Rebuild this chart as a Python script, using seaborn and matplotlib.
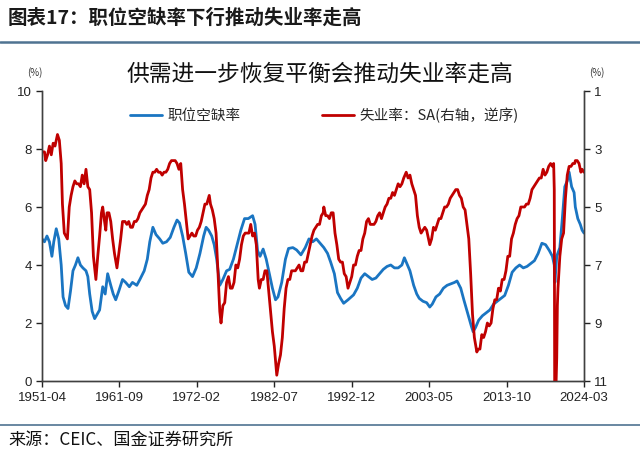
import matplotlib
matplotlib.use('Agg')
import matplotlib.pyplot as plt
import pandas as pd
import seaborn as sns
from matplotlib.lines import Line2D

# ---------------- data ----------------
vac_dates = [
    '1951-04', '1951-08', '1951-12', '1952-04', '1952-08', '1952-11', '1953-03', '1953-07', '1953-11',
    '1954-02', '1954-06', '1954-10', '1955-02', '1955-06', '1955-10', '1956-02', '1956-06', '1956-10',
    '1957-03', '1957-06', '1957-09', '1958-01', '1958-05', '1958-09', '1959-01', '1959-06', '1959-10',
    '1960-02', '1960-07', '1960-11', '1961-03', '1961-08', '1962-02', '1962-07', '1963-01', '1963-06',
    '1964-01', '1964-06', '1965-01', '1965-06', '1965-10', '1966-03', '1966-08', '1967-02', '1967-07',
    '1968-01', '1968-07', '1969-01', '1969-06', '1969-10', '1970-03', '1970-08', '1971-01', '1971-07',
    '1972-01', '1972-07', '1973-01', '1973-05', '1973-09', '1974-02', '1974-06', '1974-10', '1975-03',
    '1975-08', '1976-02', '1976-07', '1977-01', '1977-07', '1978-01', '1978-07', '1979-01', '1979-08',
    '1979-12', '1980-04', '1980-08', '1981-01', '1981-06', '1981-11', '1982-04', '1982-09', '1983-01',
    '1983-07', '1984-01', '1984-06', '1985-01', '1985-07', '1986-02', '1986-09', '1987-03', '1987-09',
    '1988-03', '1988-09', '1989-03', '1989-09', '1990-02', '1990-08', '1991-01', '1991-06', '1991-11',
    '1992-06', '1993-03', '1993-09', '1994-03', '1994-09', '1995-03', '1995-09', '1996-03', '1996-09',
    '1997-03', '1997-09', '1998-03', '1998-09', '1999-03', '1999-09', '2000-01', '2000-06', '2000-10',
    '2001-04', '2001-09', '2002-01', '2002-07', '2003-01', '2003-06', '2003-10', '2004-04', '2004-10',
    '2005-04', '2005-10', '2006-04', '2006-10', '2007-02', '2007-08', '2008-01', '2008-07', '2009-01',
    '2009-04', '2009-08', '2010-01', '2010-07', '2011-01', '2011-07', '2012-01', '2012-07', '2013-01',
    '2013-07', '2014-01', '2014-07', '2015-01', '2015-07', '2016-01', '2016-07', '2017-01', '2017-07',
    '2018-01', '2018-07', '2019-01', '2019-07', '2019-12', '2020-03', '2020-04', '2020-07', '2020-12',
    '2021-04', '2021-08', '2021-12', '2022-03', '2022-07', '2022-11', '2023-01', '2023-05', '2023-09',
    '2023-12', '2024-03']
vac_values = [
    4.9, 4.8, 5.0, 4.8, 4.3, 4.8, 5.25, 4.9, 4.0,
    2.9, 2.6, 2.5, 3.1, 3.8, 4.0, 4.25, 4.0, 3.9,
    3.8, 3.6, 3.0, 2.4, 2.15, 2.3, 2.45, 3.25, 3.0,
    3.7, 3.3, 3.0, 2.8, 3.1, 3.5, 3.4, 3.25, 3.4,
    3.3, 3.5, 3.8, 4.2, 4.8, 5.3, 5.05, 4.9, 4.75,
    4.8, 4.95, 5.3, 5.55, 5.45, 5.0, 4.4, 3.75, 3.6,
    3.9, 4.4, 5.0, 5.3, 5.2, 5.0, 4.7, 4.2, 3.3,
    3.5, 3.8, 3.85, 4.2, 4.7, 5.2, 5.6, 5.6, 5.7,
    5.4, 4.5, 4.3, 4.55, 4.2, 3.7, 3.2, 2.8, 2.9,
    3.4, 4.2, 4.57, 4.6, 4.52, 4.35, 4.6, 4.9, 4.8,
    4.9, 4.75, 4.6, 4.4, 4.1, 3.7, 3.05, 2.85, 2.68,
    2.8, 2.97, 3.2, 3.55, 3.7, 3.6, 3.5, 3.55, 3.7,
    3.85, 3.95, 4.0, 3.9, 3.9, 4.0, 4.25, 4.0, 3.8,
    3.3, 3.0, 2.85, 2.75, 2.7, 2.55, 2.65, 2.9, 3.0,
    3.2, 3.3, 3.35, 3.4, 3.45, 3.2, 2.8, 2.35, 1.9,
    1.7, 1.85, 2.1, 2.25, 2.35, 2.45, 2.65, 2.75, 2.85,
    2.95, 3.3, 3.75, 3.9, 4.0, 3.9, 3.95, 4.05, 4.15,
    4.4, 4.75, 4.7, 4.5, 4.3, 4.0, 3.4, 4.3, 4.6,
    5.6, 6.7, 6.9, 7.2, 6.7, 6.5, 6.0, 5.6, 5.4,
    5.2, 5.1]

unemp_dates = [
    '1951-04', '1951-08', '1951-10', '1952-01', '1952-04', '1952-07', '1952-10', '1953-01', '1953-05',
    '1953-08', '1953-11', '1954-01', '1954-04', '1954-09', '1954-12', '1955-03', '1955-06', '1955-09',
    '1955-12', '1956-03', '1956-06', '1956-09', '1956-12', '1957-03', '1957-06', '1957-09', '1957-12',
    '1958-03', '1958-07', '1958-10', '1959-01', '1959-04', '1959-06', '1959-09', '1959-11', '1960-01',
    '1960-04', '1960-07', '1960-10', '1961-01', '1961-05', '1961-08', '1961-11', '1962-02', '1962-06',
    '1962-09', '1962-12', '1963-03', '1963-06', '1963-09', '1963-12', '1964-03', '1964-06', '1964-09',
    '1964-12', '1965-03', '1965-06', '1965-09', '1965-12', '1966-03', '1966-06', '1966-09', '1966-12',
    '1967-03', '1967-06', '1967-09', '1967-12', '1968-03', '1968-06', '1968-09', '1968-12', '1969-03',
    '1969-06', '1969-09', '1969-12', '1970-03', '1970-06', '1970-09', '1970-12', '1971-03', '1971-06',
    '1971-09', '1971-12', '1972-03', '1972-06', '1972-09', '1972-12', '1973-03', '1973-06', '1973-10',
    '1973-12', '1974-03', '1974-06', '1974-09', '1974-12', '1975-03', '1975-05', '1975-08', '1975-11',
    '1976-02', '1976-05', '1976-08', '1976-11', '1977-02', '1977-05', '1977-08', '1977-11', '1978-02',
    '1978-05', '1978-08', '1978-11', '1979-02', '1979-05', '1979-08', '1979-11', '1980-02', '1980-05',
    '1980-07', '1980-10', '1981-01', '1981-04', '1981-07', '1981-10', '1982-01', '1982-04', '1982-07',
    '1982-11', '1983-02', '1983-05', '1983-08', '1983-11', '1984-02', '1984-05', '1984-08', '1984-11',
    '1985-02', '1985-05', '1985-08', '1985-11', '1986-02', '1986-05', '1986-08', '1986-11', '1987-02',
    '1987-05', '1987-08', '1987-11', '1988-02', '1988-05', '1988-08', '1988-11', '1989-02', '1989-03',
    '1989-06', '1989-09', '1989-12', '1990-03', '1990-06', '1990-09', '1990-12', '1991-03', '1991-06',
    '1991-09', '1991-12', '1992-03', '1992-06', '1992-09', '1992-12', '1993-03', '1993-06', '1993-09',
    '1993-12', '1994-03', '1994-06', '1994-09', '1994-12', '1995-03', '1995-06', '1995-09', '1995-12',
    '1996-03', '1996-06', '1996-09', '1996-12', '1997-03', '1997-06', '1997-09', '1997-12', '1998-03',
    '1998-06', '1998-09', '1998-12', '1999-03', '1999-06', '1999-09', '1999-12', '2000-04', '2000-07',
    '2000-10', '2001-01', '2001-04', '2001-07', '2001-10', '2002-01', '2002-04', '2002-07', '2002-10',
    '2003-01', '2003-06', '2003-09', '2003-12', '2004-03', '2004-06', '2004-09', '2004-12', '2005-03',
    '2005-06', '2005-09', '2005-12', '2006-03', '2006-06', '2006-09', '2006-12', '2007-03', '2007-06',
    '2007-09', '2007-12', '2008-03', '2008-06', '2008-09', '2008-12', '2009-03', '2009-06', '2009-10',
    '2009-12', '2010-03', '2010-06', '2010-09', '2010-12', '2011-03', '2011-06', '2011-09', '2011-12',
    '2012-03', '2012-06', '2012-09', '2012-12', '2013-03', '2013-06', '2013-09', '2013-12', '2014-03',
    '2014-06', '2014-09', '2014-12', '2015-03', '2015-06', '2015-09', '2015-12', '2016-03', '2016-06',
    '2016-09', '2016-12', '2017-03', '2017-06', '2017-09', '2017-12', '2018-03', '2018-06', '2018-09',
    '2018-12', '2019-03', '2019-06', '2019-09', '2019-12', '2020-02', '2020-03', '2020-04', '2020-05',
    '2020-06', '2020-07', '2020-08', '2020-09', '2020-12', '2021-03', '2021-06', '2021-09', '2021-12',
    '2022-03', '2022-06', '2022-09', '2022-12', '2023-01', '2023-04', '2023-07', '2023-10', '2023-12',
    '2024-03']
unemp_values = [
    3.1, 3.1, 3.4, 3.2, 2.9, 3.2, 2.8, 2.9, 2.5,
    2.7, 3.5, 4.9, 5.9, 6.1, 5.0, 4.6, 4.3, 4.1,
    4.2, 4.2, 4.3, 3.9, 4.2, 3.7, 4.3, 4.4, 5.2,
    6.7, 7.5, 6.7, 6.0, 5.2, 5.0, 5.5, 5.8, 5.2,
    5.2, 5.5, 6.1, 6.6, 7.1, 6.6, 6.1, 5.5, 5.5,
    5.6, 5.5, 5.7, 5.7, 5.5, 5.5, 5.4, 5.2, 5.1,
    5.0, 4.9, 4.6, 4.4, 4.0, 3.8, 3.8, 3.7, 3.8,
    3.8, 3.9, 3.8, 3.8, 3.7, 3.5, 3.4, 3.4, 3.4,
    3.5, 3.7, 3.5, 4.4, 4.9, 5.5, 6.1, 6.0, 5.9,
    6.0, 6.0, 5.8, 5.7, 5.5, 5.2, 4.9, 4.9, 4.6,
    4.9, 5.1, 5.4, 5.9, 7.2, 8.6, 9.0, 8.4, 8.3,
    7.6, 7.4, 7.8, 7.8, 7.6, 7.0, 7.1, 6.8, 6.3,
    6.0, 5.9, 5.9, 5.9, 5.6, 6.0, 5.9, 6.3, 7.5,
    7.8, 7.5, 7.5, 7.2, 7.2, 7.9, 8.6, 9.3, 9.8,
    10.8, 10.4, 10.1, 9.5, 8.5, 7.8, 7.5, 7.5, 7.2,
    7.2, 7.2, 7.1, 7.0, 7.2, 7.2, 6.9, 6.9, 6.6,
    6.3, 6.0, 5.8, 5.7, 5.6, 5.6, 5.3, 5.2, 5.0,
    5.3, 5.3, 5.4, 5.2, 5.2, 5.9, 6.3, 6.8, 6.9,
    6.9, 7.3, 7.4, 7.8, 7.6, 7.4, 7.0, 7.0, 6.7,
    6.5, 6.5, 6.1, 5.9, 5.5, 5.4, 5.6, 5.6, 5.6,
    5.5, 5.3, 5.2, 5.4, 5.2, 5.0, 4.9, 4.7, 4.7,
    4.5, 4.6, 4.4, 4.2, 4.3, 4.2, 4.0, 3.8, 4.0,
    3.9, 4.2, 4.4, 4.6, 5.3, 5.7, 5.9, 5.8, 5.7,
    5.8, 6.3, 6.1, 5.7, 5.8, 5.6, 5.4, 5.4, 5.2,
    5.0, 5.0, 4.9, 4.7, 4.6, 4.5, 4.4, 4.4, 4.6,
    4.7, 5.0, 5.1, 5.6, 6.1, 7.3, 8.7, 9.5, 10.0,
    9.9, 9.9, 9.4, 9.5, 9.3, 9.0, 9.1, 9.0, 8.5,
    8.2, 8.2, 7.8, 7.9, 7.5, 7.5, 7.2, 6.7, 6.7,
    6.1, 5.9, 5.6, 5.4, 5.3, 5.0, 5.0, 5.0, 4.9,
    4.9, 4.7, 4.4, 4.3, 4.2, 4.1, 4.0, 4.0, 3.7,
    3.9, 3.8, 3.6, 3.5, 3.6, 3.5, 4.4, 14.7, 13.2,
    11.0, 10.2, 8.4, 7.8, 6.7, 6.1, 5.9, 4.7, 3.9,
    3.6, 3.6, 3.5, 3.5, 3.4, 3.4, 3.5, 3.8, 3.7,
    3.8]

tick_labels = ['1951-04', '1961-09', '1972-02', '1982-07', '1992-12', '2003-05', '2013-10', '2024-03']
left_ticks = [0, 2, 4, 6, 8, 10]
right_ticks = [1, 3, 5, 7, 9, 11]

name_vac = '职位空缺率'
name_unemp = '失业率：SA(右轴，逆序)'
fig_title = '图表17：职位空缺率下行推动失业率走高'
chart_title = '供需进一步恢复平衡会推动失业率走高'
source = '来源：CEIC、国金证券研究所'


def month_index(s):
    y, m = s.split('-')
    return (int(y) - 1951) * 12 + int(m) - 4


vac = pd.DataFrame({'t': [month_index(d) for d in vac_dates], 'v': vac_values})
une = pd.DataFrame({'t': [month_index(d) for d in unemp_dates], 'u': unemp_values})
tick_pos = [month_index(d) for d in tick_labels]

BLUE = '#1a75c2'
RED = '#c00000'
AXC = '#404040'

sns.set_style('ticks')
plt.rcParams['font.family'] = ['Noto Sans CJK SC', 'DejaVu Sans']
plt.rcParams['axes.edgecolor'] = AXC
plt.rcParams['xtick.color'] = AXC
plt.rcParams['ytick.color'] = AXC

fig = plt.figure(figsize=(6.4, 4.55), dpi=100)
W, H = 640, 455
ax = fig.add_axes([42 / W, 1 - 381 / H, (584 - 42) / W, (381 - 91) / H])
ax2 = ax.twinx()

sns.lineplot(data=vac, x='t', y='v', ax=ax, color=BLUE, linewidth=2.0, estimator=None, legend=False)
sns.lineplot(data=une, x='t', y='u', ax=ax2, color=RED, linewidth=2.0, estimator=None, legend=False)

ax.set_xlim(0, month_index('2024-03'))
ax.set_ylim(0, 10)
ax2.set_ylim(11, 1)
ax.set_yticks(left_ticks)
ax2.set_yticks(right_ticks)
ax.set_xticks(tick_pos)
ax.set_xticklabels(tick_labels)
for a in (ax, ax2):
    a.set_xlabel('')
    a.set_ylabel('')
    a.spines['top'].set_visible(False)
    for sp in a.spines.values():
        sp.set_linewidth(1.0)
    a.tick_params(length=4, width=1.0, direction='out', labelsize=9.5, colors='#222222')
ax.tick_params(axis='x', pad=4)

for lbl in ax.get_xticklabels() + ax.get_yticklabels() + ax2.get_yticklabels():
    lbl.set_fontfamily(['Liberation Sans', 'DejaVu Sans'])

# legend
handles = [Line2D([], [], color=BLUE, lw=2.0), Line2D([], [], color=RED, lw=2.0)]
fig.legend(handles, [name_vac, name_unemp], loc='center left', bbox_to_anchor=(130 / W, 1 - 115 / H),
           ncol=2, frameon=False, fontsize=10.5, handlelength=2.2, handletextpad=0.35,
           columnspacing=5.6, borderpad=0, borderaxespad=0)

# titles and notes
fig.text(8 / W, 1 - 18 / H, fig_title, fontsize=14, fontweight='bold', color='#1a1a1a',
         ha='left', va='center')
fig.add_artist(Line2D([0, 1], [1 - 42 / H, 1 - 42 / H], color='#4f7391', lw=1.8))
fig.text(320 / W, 1 - 74 / H, chart_title, fontsize=16.4, color='#111111', ha='center', va='center')
fig.text(35 / W, 1 - 73 / H, '(%)', fontsize=7, color='#333333', ha='center', va='center')
fig.text(597 / W, 1 - 73 / H, '(%)', fontsize=7, color='#333333', ha='center', va='center')
fig.add_artist(Line2D([0, 1], [1 - 425 / H, 1 - 425 / H], color='#4f7391', lw=1.2))
fig.text(8 / W, 1 - 440 / H, source, fontsize=12.3, color='#111111', ha='left', va='center')

fig.savefig('out.png', dpi=100)
